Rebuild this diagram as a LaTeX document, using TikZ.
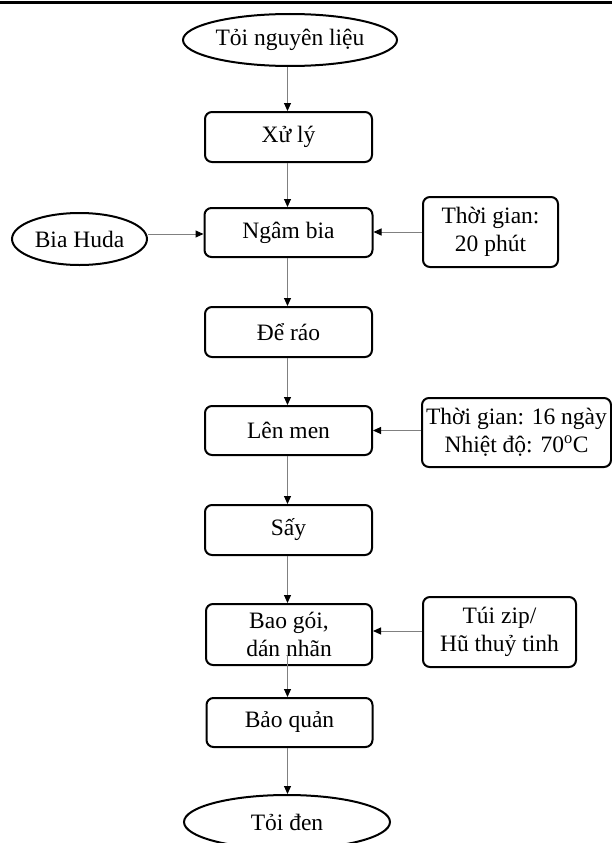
\documentclass[tikz,border=0pt]{standalone}
\usepackage{fontspec}
\setmainfont{Liberation Serif}
\usetikzlibrary{shapes.geometric,arrows.meta}
\begin{document}
\begin{tikzpicture}[x=1pt,y=-1pt,
  every node/.style={font=\fontsize{23.5}{28}\selectfont, inner sep=0pt, align=center},
  stepbox/.style={draw=black, line width=2pt, rounded corners=7pt, rectangle},
  termbox/.style={draw=black, line width=2pt, ellipse},
  flow/.style={draw=gray, line width=1pt, -{Triangle[length=8pt,width=7pt,color=black]}}
]
\useasboundingbox (0,0) rectangle (612,843);
\clip (0,0) rectangle (612,843);
\draw[line width=3pt] (0,2.5) -- (612,2.5);

\node[termbox, minimum width=214pt, minimum height=52pt] (start) at (290,40) {Tỏi nguyên liệu};
\node[stepbox, minimum width=167pt, minimum height=50pt] (xuly) at (288.5,137) {Xử lý};
\node[stepbox, minimum width=168pt, minimum height=49pt] (ngam) at (288.5,232.5) {Ngâm bia};
\node[termbox, minimum width=135pt, minimum height=52pt] (bia) at (79.5,239) {Bia Huda};
\node[stepbox, minimum width=135pt, minimum height=70pt] (tg1) at (490.5,232) {Thời gian:\\20 phút};
\node[stepbox, minimum width=167pt, minimum height=50pt] (dero) at (288.5,332) {Để ráo};
\node[stepbox, minimum width=167pt, minimum height=49pt] (lenmen) at (288.5,430.5) {Lên men};
\node[stepbox, minimum width=189pt, minimum height=69pt] (tg2) at (516.5,432.5) {Thời gian: 16 ngày\\Nhiệt độ: 70\textsuperscript{o}C};
\node[stepbox, minimum width=167pt, minimum height=50pt] (say) at (288.5,530) {Sấy};
\node[stepbox, minimum width=166pt, minimum height=61pt] (baogoi) at (289,634.5) {Bao gói,\\dán nhãn};
\node[stepbox, minimum width=153pt, minimum height=70pt] (tuizip) at (499.5,632) {Túi zip/\\Hũ thuỷ tinh};
\node[stepbox, minimum width=166pt, minimum height=49pt] (baoquan) at (289.5,722.5) {Bảo quản};
\node[termbox, minimum width=206pt, minimum height=54pt] (end) at (287,822) {Tỏi đen};

\coordinate (c1) at (287.5,655);
\draw[flow] (start.south -| 287.5,0) -- (xuly.north -| 287.5,0);
\draw[flow] (xuly.south -| 287.5,0) -- (ngam.north -| 287.5,0);
\draw[flow] (ngam.south -| 287.5,0) -- (dero.north -| 287.5,0);
\draw[flow] (dero.south -| 287.5,0) -- (lenmen.north -| 287.5,0);
\draw[flow] (lenmen.south -| 287.5,0) -- (say.north -| 287.5,0);
\draw[flow] (say.south -| 287.5,0) -- (baogoi.north -| 287.5,0);
\draw[flow] (c1) -- (baoquan.north -| c1);
\draw[flow] (baoquan.south -| 287.5,0) -- (end.north -| 287.5,0);

\draw[flow] (bia.east |- 0,234) -- (ngam.west |- 0,234);
\draw[flow] (tg1.west) -- (ngam.east |- tg1.west);
\draw[flow] (tg2.west |- lenmen.east) -- (lenmen.east);
\draw[flow] (tuizip.west |- 0,631) -- (baogoi.east |- 0,631);
\end{tikzpicture}
\end{document}
